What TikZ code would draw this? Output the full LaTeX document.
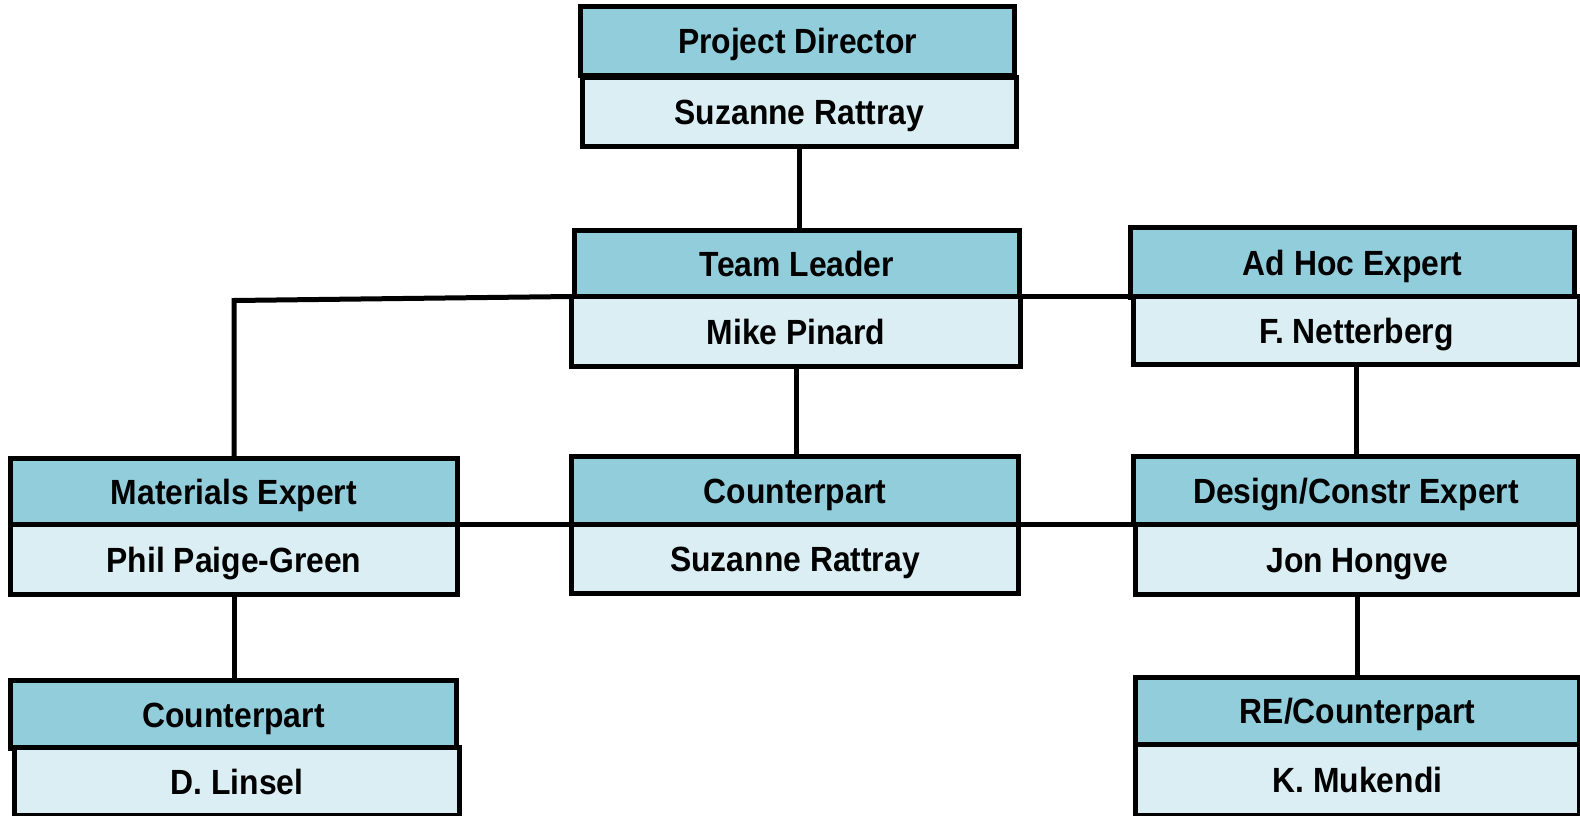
\documentclass[tikz,border=0pt]{standalone}
\usepackage{fontspec}
\setmainfont{Liberation Sans}[FakeStretch=0.91]
\definecolor{rolefill}{HTML}{92CDDC}
\definecolor{personfill}{HTML}{DAEEF3}
% one cell of the chart, given by its outer corners (x1,y1)-(x2,y2) in px
\newcommand\orgcell[7]{%
  \node[#6, minimum width={(#4-#2-5)*1pt}, minimum height={(#5-#3-5)*1pt}]
    (#1) at ({(#2+#4)/2},{(#3+#5)/2}) {#7};}
\begin{document}
\begin{tikzpicture}[x=1pt,y=-1pt,
  basecell/.style={draw=black, line width=5pt, inner sep=0pt, outer sep=0pt,
    text height=25pt, text depth=0pt,
    font=\fontsize{35}{40}\selectfont\bfseries},
  rolecell/.style={basecell, fill=rolefill},
  personcell/.style={basecell, fill=personfill},
  link/.style={draw=black, line width=5pt}]
\useasboundingbox[fill=white] (0,0) rectangle (1580,816);

% project director
\orgcell{pdhead}{578}{4}{1017}{78}{rolecell}{Project Director}
\orgcell{pdname}{580}{75}{1019}{149}{personcell}{Suzanne Rattray}
% team leader
\orgcell{tlhead}{572}{228}{1022}{299}{rolecell}{Team Leader}
\orgcell{tlname}{569}{294}{1023}{369}{personcell}{Mike Pinard}
% ad hoc expert
\orgcell{ahhead}{1128}{225}{1577}{300}{rolecell}{Ad Hoc Expert}
\orgcell{ahname}{1131}{294}{1582}{367}{personcell}{F. Netterberg}
% materials expert
\orgcell{mehead}{8}{456}{460}{528}{rolecell}{Materials Expert}
\orgcell{mename}{8}{522}{460}{597}{personcell}{Phil Paige-Green}
% counterpart (centre)
\orgcell{cphead}{569}{454}{1021}{528}{rolecell}{Counterpart}
\orgcell{cpname}{569}{522}{1021}{596}{personcell}{Suzanne Rattray}
% design / construction expert
\orgcell{dchead}{1131}{454}{1581}{527}{rolecell}{Design/Constr Expert}
\orgcell{dcname}{1133}{522}{1582}{597}{personcell}{Jon Hongve}
% counterpart (lower left)
\orgcell{clhead}{8}{678}{459}{751}{rolecell}{Counterpart}
\orgcell{clname}{12}{745}{462}{818}{personcell}{D. Linsel}
% resident engineer / counterpart
\orgcell{rehead}{1133}{675}{1582}{747}{rolecell}{RE/Counterpart}
\orgcell{rename}{1133}{742}{1582}{818}{personcell}{K. Mukendi}

% connectors
\coordinate (elbow) at (234,300.5);
\draw[link] (pdname.south) -- (pdname.south |- tlhead.north);
\draw[link] (tlname.south) -- (tlname.south |- cphead.north);
\draw[link] (ahname.south) -- (ahname.south |- dchead.north);
\draw[link] (dcname.south) -- (dcname.south |- rehead.north);
\draw[link] (mename.south) -- (mename.south |- clhead.north);
\draw[link] (mehead.north) -- (elbow) -- (tlname.north west);
\draw[link] (tlname.north east) -- (ahname.north west);
\draw[link] (mename.north east) -- (cpname.north west);
\draw[link] (cpname.north east) -- (dcname.north west);
\end{tikzpicture}
\end{document}
